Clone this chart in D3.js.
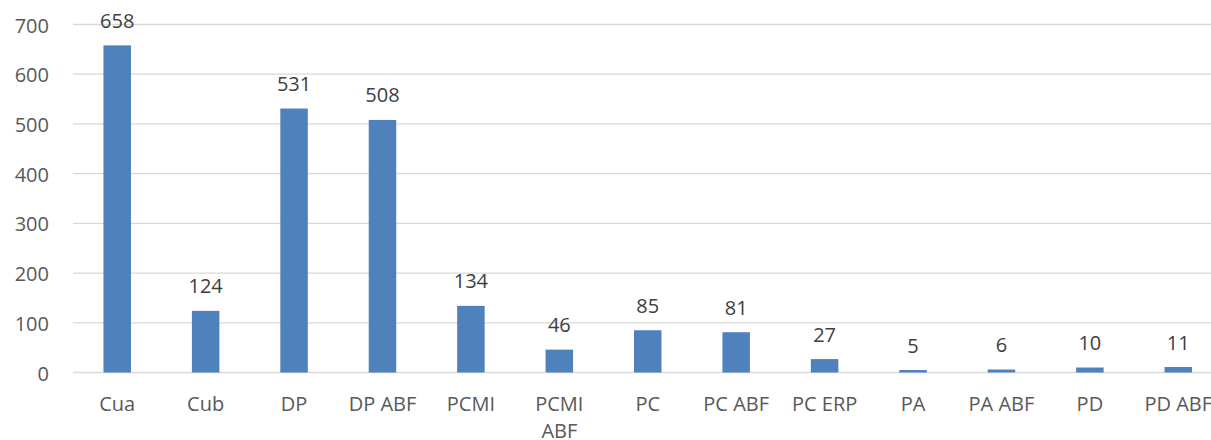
<!DOCTYPE html>
<html>
<head>
<meta charset="utf-8">
<script src="https://cdn.jsdelivr.net/npm/d3@7"></script>
<style>
  body { margin: 0; background: #fff; }
  svg { display: block; font-family: "Open Sans", sans-serif; }
</style>
</head>
<body>
<div id="chart"></div>
<script>
	var categories = ['Cua', 'Cub', 'DP', 'DP ABF', 'PCMI', 'PCMI ABF', 'PC', 'PC ABF', 'PC ERP', 'PA', 'PA ABF', 'PD', 'PD ABF'];
	var values = [658, 124, 531, 508, 134, 46, 85, 81, 27, 5, 6, 10, 11];
	var yTicks = [0, 100, 200, 300, 400, 500, 600, 700];

	var svgwidth = 1211;
	var svgheight = 440;
	var barwidth = 27.5;

	var svg = d3.select('#chart')
				.append('svg')
				.attr('width', svgwidth)
				.attr('height', svgheight);

	var x = d3.scaleBand()
				.domain(categories)
				.range([73, 1222.5])
				.padding(0);

	var y = d3.scaleLinear()
				.domain([0, 700])
				.range([372.5, 24.5]);

	// gridlines
	svg.append('g')
		.selectAll('line')
		.data(yTicks)
		.enter()
		.append('line')
		.attr('x1', 73)
		.attr('x2', 1222.5)
		.attr('y1', function(d){ return y(d); })
		.attr('y2', function(d){ return y(d); })
		.attr('stroke', '#d9d9d9')
		.attr('stroke-width', 1.3);

	// y axis labels
	var yAxis = d3.axisLeft(y).tickValues(yTicks).tickSize(0).tickPadding(0);
	var yg = svg.append('g')
				.attr('transform', 'translate(49,0)')
				.call(yAxis);
	yg.select('.domain').remove();
	yg.selectAll('text')
		.attr('dy', null)
		.attr('y', 7.5)
		.attr('fill', '#595959')
		.style('font-size', '20px')
		.style('font-family', '"Open Sans", sans-serif');

	// bars
	svg.append('g')
		.selectAll('rect')
		.data(values)
		.enter()
		.append('rect')
		.attr('x', function(d, i){ return x(categories[i]) + x.bandwidth() / 2 - barwidth / 2; })
		.attr('y', function(d){ return y(d); })
		.attr('width', barwidth)
		.attr('height', function(d){ return y(0) - y(d); })
		.attr('fill', '#4f81bd');

	// data labels
	svg.append('g')
		.selectAll('text')
		.data(values)
		.enter()
		.append('text')
		.attr('x', function(d, i){ return x(categories[i]) + x.bandwidth() / 2; })
		.attr('y', function(d){ return y(d) - 17.5; })
		.attr('text-anchor', 'middle')
		.attr('fill', '#404040')
		.style('font-size', '20px')
		.text(function(d){ return d; });

	// x axis labels, wrapped when wider than the band
	var xAxis = d3.axisBottom(x).tickSize(0).tickPadding(0);
	var xg = svg.append('g')
				.attr('transform', 'translate(0,0)')
				.call(xAxis);
	xg.select('.domain').remove();
	xg.selectAll('text').remove();
	xg.selectAll('.tick').each(function(d){
		var t = d3.select(this).append('text')
					.attr('text-anchor', 'middle')
					.attr('fill', '#595959')
					.style('font-size', '20px')
					.style('font-family', '"Open Sans", sans-serif')
					.attr('y', 411)
					.text(d);
		if (t.node().getComputedTextLength() > x.bandwidth()) {
			var words = d.split(' ');
			t.text(null);
			words.forEach(function(w, i){
				t.append('tspan')
					.attr('x', 0)
					.attr('y', 411 + i * 26.5)
					.text(w);
			});
		}
	});
</script>
</body>
</html>
